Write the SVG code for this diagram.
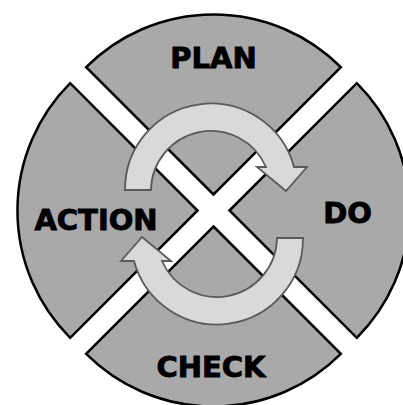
<svg xmlns="http://www.w3.org/2000/svg" width="403" height="405" viewBox="0 0 403 405">
<style>
.seg{fill:#a9a9a9;stroke:#000;stroke-width:2.5;stroke-linejoin:miter}
.arrow{fill:#d9d9d9;stroke:#5a5a5a;stroke-width:1.8;stroke-linejoin:miter}
.lbl{font-family:"DejaVu Sans","Liberation Sans",sans-serif;font-weight:bold;font-size:29px;fill:#000;stroke:#000;stroke-width:0.9;text-anchor:middle}
</style>
<rect width="403" height="405" fill="#fff"/>
<g id="plan">
<path class="seg" d="M213.5 194.5 L86.2 67.2 A180 180 0 0 1 340.8 67.2 Z"/>
<text class="lbl" x="213.5" y="68">PLAN</text>
</g>
<g id="do">
<path class="seg" d="M229.5 210.5 L356.8 83.2 A180 180 0 0 1 356.8 337.8 Z"/>
<text class="lbl" x="347.5" y="223">DO</text>
</g>
<g id="check">
<path class="seg" d="M213.5 226.5 L340.8 353.8 A180 180 0 0 1 86.2 353.8 Z"/>
<text class="lbl" x="211" y="377">CHECK</text>
</g>
<g id="action">
<path class="seg" d="M197.5 210.5 L70.2 337.8 A180 180 0 0 1 70.2 83.2 Z"/>
<text class="lbl" x="96" y="230">ACTION</text>
</g>
<g id="connectors">
<path id="arrow-top" class="arrow" d="M151 190 L125 190 A86 86 0 0 1 294 167 L307 167 L286 191 L257 167 L266 167 A60 60 0 0 0 151 190 Z"/>
<path id="arrow-bottom" class="arrow" transform="rotate(180 214 214)" d="M151 190 L125 190 A86 86 0 0 1 294 167 L307 167 L286 191 L257 167 L266 167 A60 60 0 0 0 151 190 Z"/>
</g>
</svg>
